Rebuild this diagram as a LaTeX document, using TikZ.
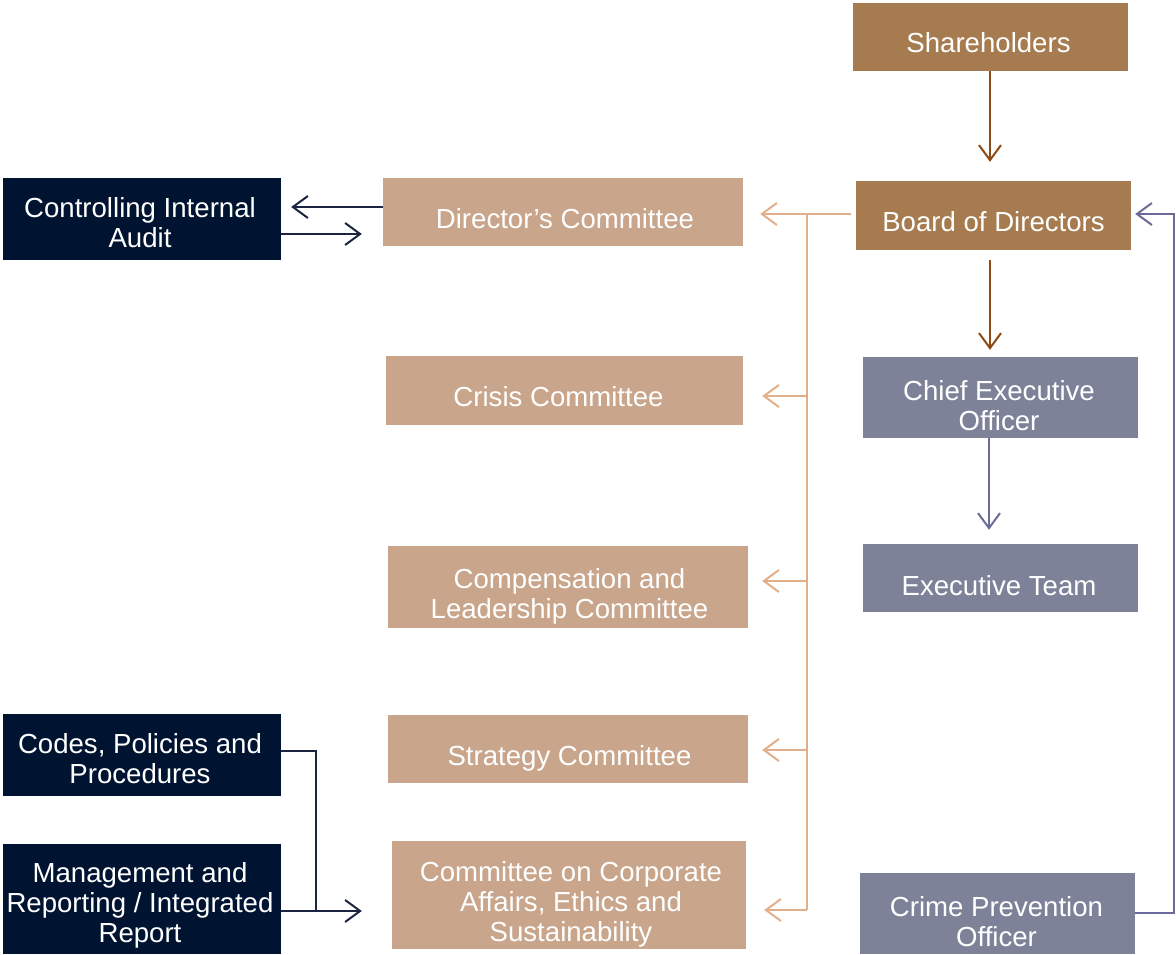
\documentclass[tikz,border=0pt]{standalone}
\usepackage{fontspec}
\setmainfont{Liberation Sans}
\usetikzlibrary{arrows.meta}
\definecolor{cBrown}{HTML}{A67B4F}
\definecolor{cTan}{HTML}{C8A58B}
\definecolor{cNavy}{HTML}{001432}
\definecolor{cSlate}{HTML}{7E8299}
\definecolor{aBrown}{HTML}{8E4A12}
\definecolor{aTan}{HTML}{E3AF8A}
\definecolor{aSlate}{HTML}{6B6A98}
\definecolor{aNavy}{HTML}{1B2440}
\tikzset{
  box/.style={rectangle, inner sep=0pt},
  txt/.style={inner sep=0pt, text=white, align=center, font=\fontsize{27.6}{30}\selectfont},
  bbox/.style={box, fill=cBrown},
  tbox/.style={box, fill=cTan},
  nbox/.style={box, fill=cNavy},
  sbox/.style={box, fill=cSlate},
  tip/.style={-{Straight Barb[length=15pt,width=22pt,line width=2pt]}},
  abrown/.style={draw=aBrown, line width=2pt, tip},
  atan/.style={draw=aTan, line width=2pt, tip},
  ltan/.style={draw=aTan, line width=2pt},
  aslate/.style={draw=aSlate, line width=2pt, tip},
  anavy/.style={draw=aNavy, line width=2pt, tip},
  lnavy/.style={draw=aNavy, line width=2pt},
}
\begin{document}
\begin{tikzpicture}[x=1pt,y=-1pt]
\useasboundingbox (0,0) rectangle (1176,955);
% nodes
\node[bbox, minimum width=275, minimum height=68, label={[txt,xshift=-2,yshift=-6]center:Shareholders}] (sh) at (990.5,37) {};
\node[bbox, minimum width=275, minimum height=69, label={[txt,yshift=-6.5]center:Board of Directors}] (bd) at (993.5,215.5) {};
\node[tbox, minimum width=360, minimum height=68, label={[txt,xshift=2,yshift=-7]center:Director’s Committee}] (dc) at (563,212) {};
\node[nbox, minimum width=278, minimum height=82, label={[txt,xshift=-2,yshift=-4]center:{Controlling Internal\\Audit}}] (ca) at (142,219) {};
\node[tbox, minimum width=357, minimum height=69, label={[txt,xshift=-6,yshift=-6.5]center:Crisis Committee}] (cc) at (564.5,390.5) {};
\node[sbox, minimum width=275, minimum height=81, label={[txt,xshift=-1.5,yshift=-8]center:{Chief Executive\\Officer}}] (ceo) at (1000.5,397.5) {};
\node[sbox, minimum width=275, minimum height=68, label={[txt,xshift=-1.5,yshift=-7.5]center:Executive Team}] (et) at (1000.5,578) {};
\node[tbox, minimum width=360, minimum height=82, label={[txt,xshift=1.5,yshift=-9]center:{Compensation and\\Leadership Committee}}] (cl) at (568,587) {};
\node[tbox, minimum width=360, minimum height=68, label={[txt,xshift=1.5,yshift=-9]center:Strategy Committee}] (sc) at (568,749) {};
\node[nbox, minimum width=278, minimum height=82, label={[txt,xshift=-2,yshift=-4]center:{Codes, Policies and\\Procedures}}] (cp) at (142,755) {};
\node[nbox, minimum width=278, minimum height=110, label={[txt,xshift=-2,yshift=-6]center:{Management and\\Reporting / Integrated\\Report}}] (mg) at (142,899) {};
\node[tbox, minimum width=354, minimum height=108, label={[txt,xshift=2,yshift=-9]center:{Committee on Corporate\\Affairs, Ethics and\\Sustainability}}] (co) at (569,895) {};
\node[sbox, minimum width=275, minimum height=81, label={[txt,xshift=-1,yshift=-8]center:{Crime Prevention\\Officer}}] (cr) at (997.5,913.5) {};
\coordinate (tt) at (807,214);
\coordinate (rt) at (1174,214);
\coordinate (mj) at (316,911);
% vertical chain
\draw[abrown, shorten >=19pt] ([xshift=-0.5]sh.south) -- ([xshift=-0.5]sh.south |- bd.north);
\draw[abrown, shorten <=10pt, shorten >=7pt] ([xshift=-3.5]bd.south) -- ([xshift=-3.5]bd.south |- ceo.north);
\draw[aslate, shorten >=14pt] ([xshift=-11.5]ceo.south) -- ([xshift=-11.5]ceo.south |- et.north);
% board to committees
\draw[atan, shorten <=5pt, shorten >=17pt] ([yshift=1.5]bd.west) -- ([yshift=1.5]bd.west -| dc.east);
\draw[ltan] (tt) -- (tt |- co.east) -- ++(0,15);
\draw[atan, shorten >=19pt] ([yshift=-5.5]tt |- cc.east) -- ([yshift=-5.5]cc.east);
\draw[atan, shorten >=14pt] ([yshift=6]tt |- cl.east) -- ([yshift=6]cl.east);
\draw[atan, shorten >=14pt] ([yshift=-1]tt |- sc.east) -- ([yshift=-1]sc.east);
\draw[atan, shorten >=18pt] ([yshift=-15]tt |- co.east) -- ([yshift=-15]co.east);
% crime prevention to board
\draw[aslate, shorten >=4pt] ([yshift=0.5]cr.east) -| (rt) -- (rt -| bd.east);
% audit
\draw[anavy, shorten >=10pt] ([yshift=5]dc.west) -- ([yshift=5]dc.west -| ca.east);
\draw[anavy, shorten >=21pt] ([yshift=-15]ca.east) -- ([yshift=-15]ca.east -| dc.west);
% codes & management
\draw[lnavy] ([yshift=4]cp.east) -| (mj);
\draw[anavy, shorten >=30pt] ([yshift=-12]mg.east) -- ([yshift=-12]mg.east -| co.west);
\end{tikzpicture}
\end{document}
